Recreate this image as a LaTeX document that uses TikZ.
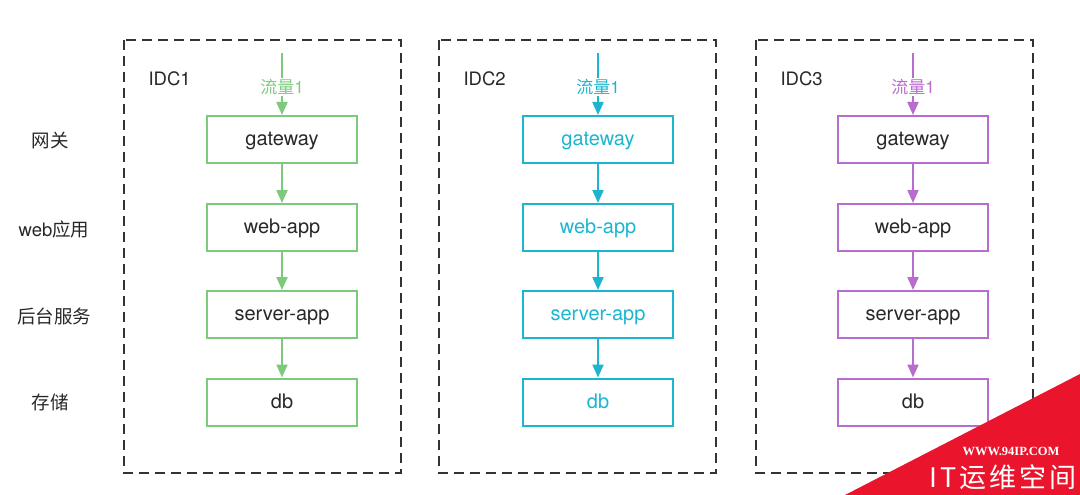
\documentclass[tikz,border=0pt]{standalone}
\usepackage{fontspec}
\setmainfont{TeX Gyre Heros}
\newfontfamily\cjk{Noto Sans CJK SC}
\newfontfamily\wmfont{Liberation Serif}
\usetikzlibrary{arrows.meta}
\definecolor{cgreen}{RGB}{125,202,125}
\definecolor{ccyan}{RGB}{27,182,206}
\definecolor{cpurple}{RGB}{184,108,206}
\definecolor{cdash}{RGB}{51,51,51}
\definecolor{ctext}{RGB}{40,40,40}
\definecolor{wmred}{RGB}{234,20,45}
\tikzset{
  idcbox/.style={draw=cdash, line width=2.4pt, dash pattern=on 10pt off 6pt},
  svc/.style={draw=#1, line width=2pt, minimum width=150pt, minimum height=47pt, inner sep=0pt, text height=14pt, text depth=2pt, font=\fontsize{20}{22}\selectfont},
  flow/.style={draw=#1, line width=2pt, -{Triangle[length=13pt,width=11pt]}},
  lbl/.style={font=\fontsize{18.5}{20}\selectfont, text=ctext},
}
\begin{document}
\begin{tikzpicture}[x=1pt,y=-1pt]
\useasboundingbox (0,0) rectangle (1080,495);
% left labels
\node[lbl] (l1) at (50,140) {\cjk 网关};
\node[lbl] (l2) at (54,229) {web{\cjk 应用}};
\node[lbl] (l3) at (54,316) {\cjk 后台服务};
\node[lbl] (l4) at (50,402) {\cjk 存储};
\foreach \i/\cx/\bx/\col/\tc in {1/282/124/cgreen/ctext, 2/598/439/ccyan/ccyan, 3/913/756/cpurple/ctext}{
  \draw[idcbox] (\bx,40) rectangle ++(277,433);
  \node[lbl, anchor=west] (idc\i) at (\bx+21,79) {IDC\i};
  \coordinate (src\i) at (\cx,53);
  \node[font=\fontsize{17}{18}\selectfont, text=\col, inner sep=1pt] (fl\i) at (\cx,87) {{\cjk 流量}1};
  \node[svc=\col, text=\tc] (gw\i) at (\cx,139.5) {gateway};
  \node[svc=\col, text=\tc] (wa\i) at (\cx,227.5) {web-app};
  \node[svc=\col, text=\tc] (sa\i) at (\cx,314.5) {server-app};
  \node[svc=\col, text=\tc] (db\i) at (\cx,402) {db};
  \draw[draw=\col, line width=2pt] (src\i) -- (fl\i.north);
  \draw[flow=\col] (fl\i.south) -- (gw\i.north);
  \draw[flow=\col] (gw\i.south) -- (wa\i.north);
  \draw[flow=\col] (wa\i.south) -- (sa\i.north);
  \draw[flow=\col] (sa\i.south) -- (db\i.north);
}
% watermark
\fill[wmred] (845,495) -- (1080,374) -- (1080,495) -- cycle;
\node[text=white, font=\wmfont\bfseries\fontsize{12.5}{13}\selectfont, inner sep=0pt] (wm1) at (1011,451) {WWW.94IP.COM};
\node[text=white, font=\cjk\fontsize{27}{28}\selectfont, inner sep=0pt] (wm2) at (1003,477) {I\hspace{3pt}T\hspace{3pt}运\hspace{3pt}维\hspace{3pt}空\hspace{3pt}间};
\end{tikzpicture}
\end{document}
